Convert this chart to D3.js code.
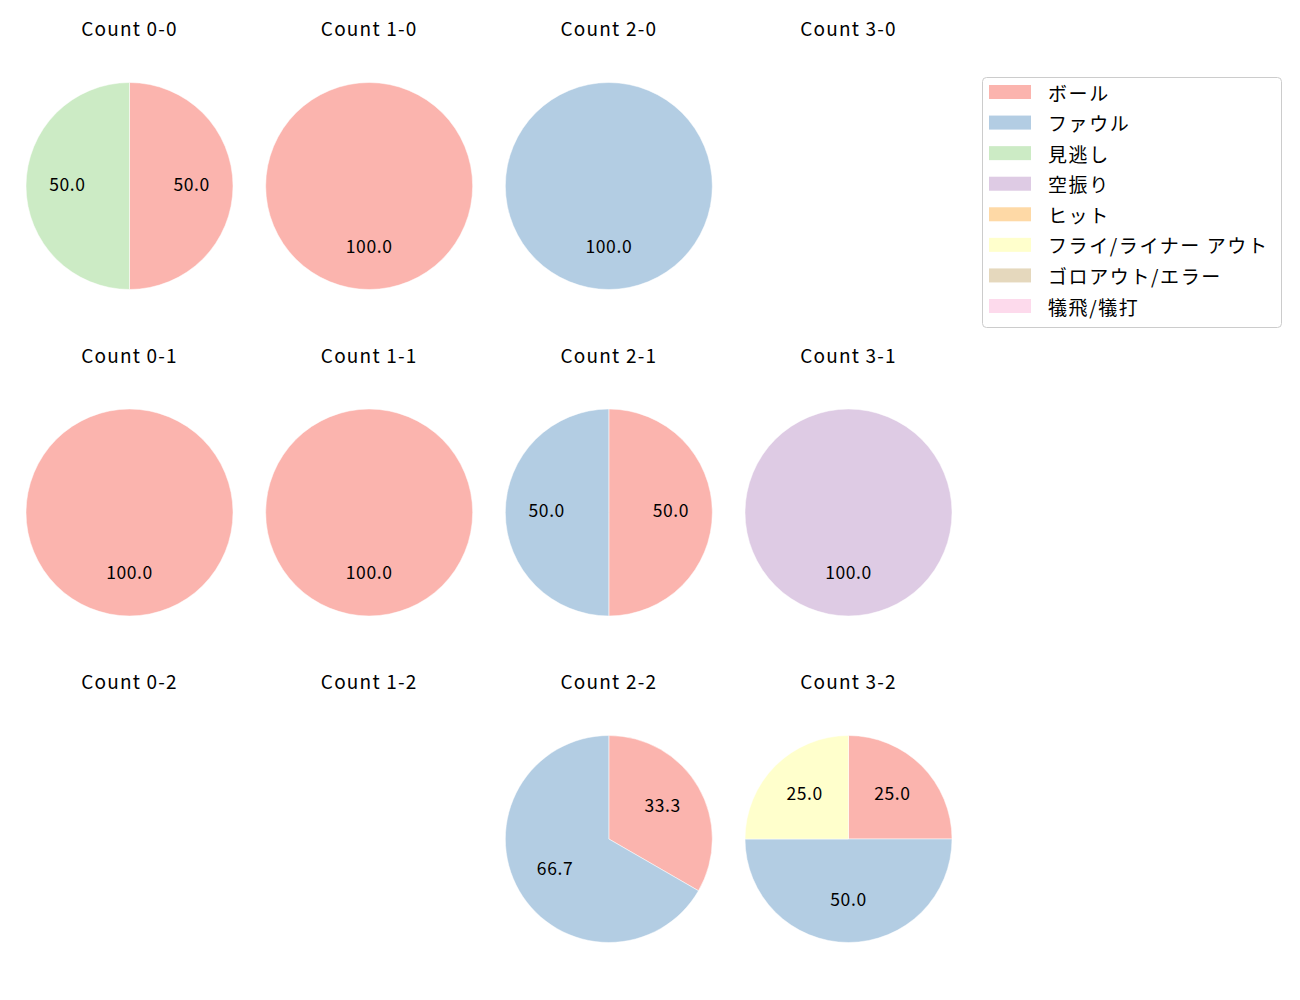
<!DOCTYPE html>
<html>
<head>
<meta charset="utf-8">
<script src="https://cdn.jsdelivr.net/npm/d3@7"></script>
<style>
  body { margin: 0; background: #fff; }
  text { font-family: "Noto Sans CJK JP", "Noto Sans", sans-serif; fill: #000; }
</style>
</head>
<body>
<div class="chart"></div>
<script>
var svgWidth = 1300;
var svgHeight = 1000;

// Categories (legend order) and colours
var categories = ["ボール", "ファウル", "見逃し", "空振り", "ヒット", "フライ/ライナー アウト", "ゴロアウト/エラー", "犠飛/犠打"];
var colors = ["#fbb4ae", "#b3cde3", "#ccebc5", "#decbe4", "#fed9a6", "#ffffcc", "#e5d8bd", "#fddaec"];

// Counts: balls (columns) and strikes (rows)
var balls = [0, 1, 2, 3];
var strikes = [0, 1, 2];

// Pitch results per count, in category order
var count00 = [1, 0, 1, 0, 0, 0, 0, 0];
var count10 = [1, 0, 0, 0, 0, 0, 0, 0];
var count20 = [0, 1, 0, 0, 0, 0, 0, 0];
var count30 = [0, 0, 0, 0, 0, 0, 0, 0];
var count01 = [1, 0, 0, 0, 0, 0, 0, 0];
var count11 = [1, 0, 0, 0, 0, 0, 0, 0];
var count21 = [1, 1, 0, 0, 0, 0, 0, 0];
var count31 = [0, 0, 0, 1, 0, 0, 0, 0];
var count02 = [0, 0, 0, 0, 0, 0, 0, 0];
var count12 = [0, 0, 0, 0, 0, 0, 0, 0];
var count22 = [1, 2, 0, 0, 0, 0, 0, 0];
var count32 = [1, 2, 0, 0, 0, 1, 0, 0];

var countValues = {
  "0-0": count00, "1-0": count10, "2-0": count20, "3-0": count30,
  "0-1": count01, "1-1": count11, "2-1": count21, "3-1": count31,
  "0-2": count02, "1-2": count12, "2-2": count22, "3-2": count32
};

var svg = d3.select(".chart")
  .append("svg")
  .attr("width", svgWidth)
  .attr("height", svgHeight);

// Grid positions
var xScale = d3.scalePoint().domain(balls).range([129.5, 848.5]);
var yScale = d3.scalePoint().domain(strikes).range([186, 839]);
var radius = 103.5;

var color = d3.scaleOrdinal().domain(categories).range(colors);

var pie = d3.pie().sort(null).value(d => d.value);
var arc = d3.arc().innerRadius(0).outerRadius(radius);
var labelArc = d3.arc().innerRadius(radius * 0.6).outerRadius(radius * 0.6);

strikes.forEach(function(s) {
  balls.forEach(function(b) {
    var key = b + "-" + s;
    var vals = countValues[key];
    var total = d3.sum(vals);
    var g = svg.append("g")
      .attr("transform", `translate(${xScale(b)}, ${yScale(s)})`);

    g.append("text")
      .attr("x", 0)
      .attr("y", -150)
      .attr("text-anchor", "middle")
      .attr("font-size", "19px")
      .attr("letter-spacing", "1.2px")
      .text("Count " + key);

    if (total === 0) return;

    var data = categories.map((c, i) => ({ cat: c, value: vals[i] }))
      .filter(d => d.value > 0);
    var arcs = pie(data);

    g.selectAll("path")
      .data(arcs)
      .enter()
      .append("path")
      .attr("d", arc)
      .attr("fill", d => color(d.data.cat))
      .attr("stroke", "#fff")
      .attr("stroke-width", 0.5);

    g.selectAll("text.lbl")
      .data(arcs)
      .enter()
      .append("text")
      .attr("class", "lbl")
      .attr("transform", d => `translate(${labelArc.centroid(d)})`)
      .attr("text-anchor", "middle")
      .attr("dominant-baseline", "central")
      .attr("dy", -3)
      .attr("font-size", "17.5px")
      .attr("letter-spacing", "0.6px")
      .text(d => (d.value / total * 100).toFixed(1));
  });
});

// Legend
var legend = svg.append("g").attr("transform", "translate(982, 77)");
legend.append("rect")
  .attr("x", 0.5)
  .attr("y", 0.5)
  .attr("width", 299)
  .attr("height", 250)
  .attr("rx", 4)
  .attr("fill", "#fff")
  .attr("stroke", "#cccccc");

var legendY = d3.scaleLinear().domain([0, categories.length - 1]).range([15, 229]);

var items = legend.selectAll("g.item")
  .data(categories)
  .enter()
  .append("g")
  .attr("class", "item")
  .attr("transform", (d, i) => `translate(0, ${legendY(i)})`);

items.append("rect")
  .attr("x", 7)
  .attr("y", -7)
  .attr("width", 42)
  .attr("height", 14)
  .attr("fill", d => color(d));

items.append("text")
  .attr("x", 66)
  .attr("y", 0)
  .attr("dominant-baseline", "central")
  .attr("font-size", "19px")
  .attr("letter-spacing", "1.6px")
  .text(d => d);
</script>
</body>
</html>
